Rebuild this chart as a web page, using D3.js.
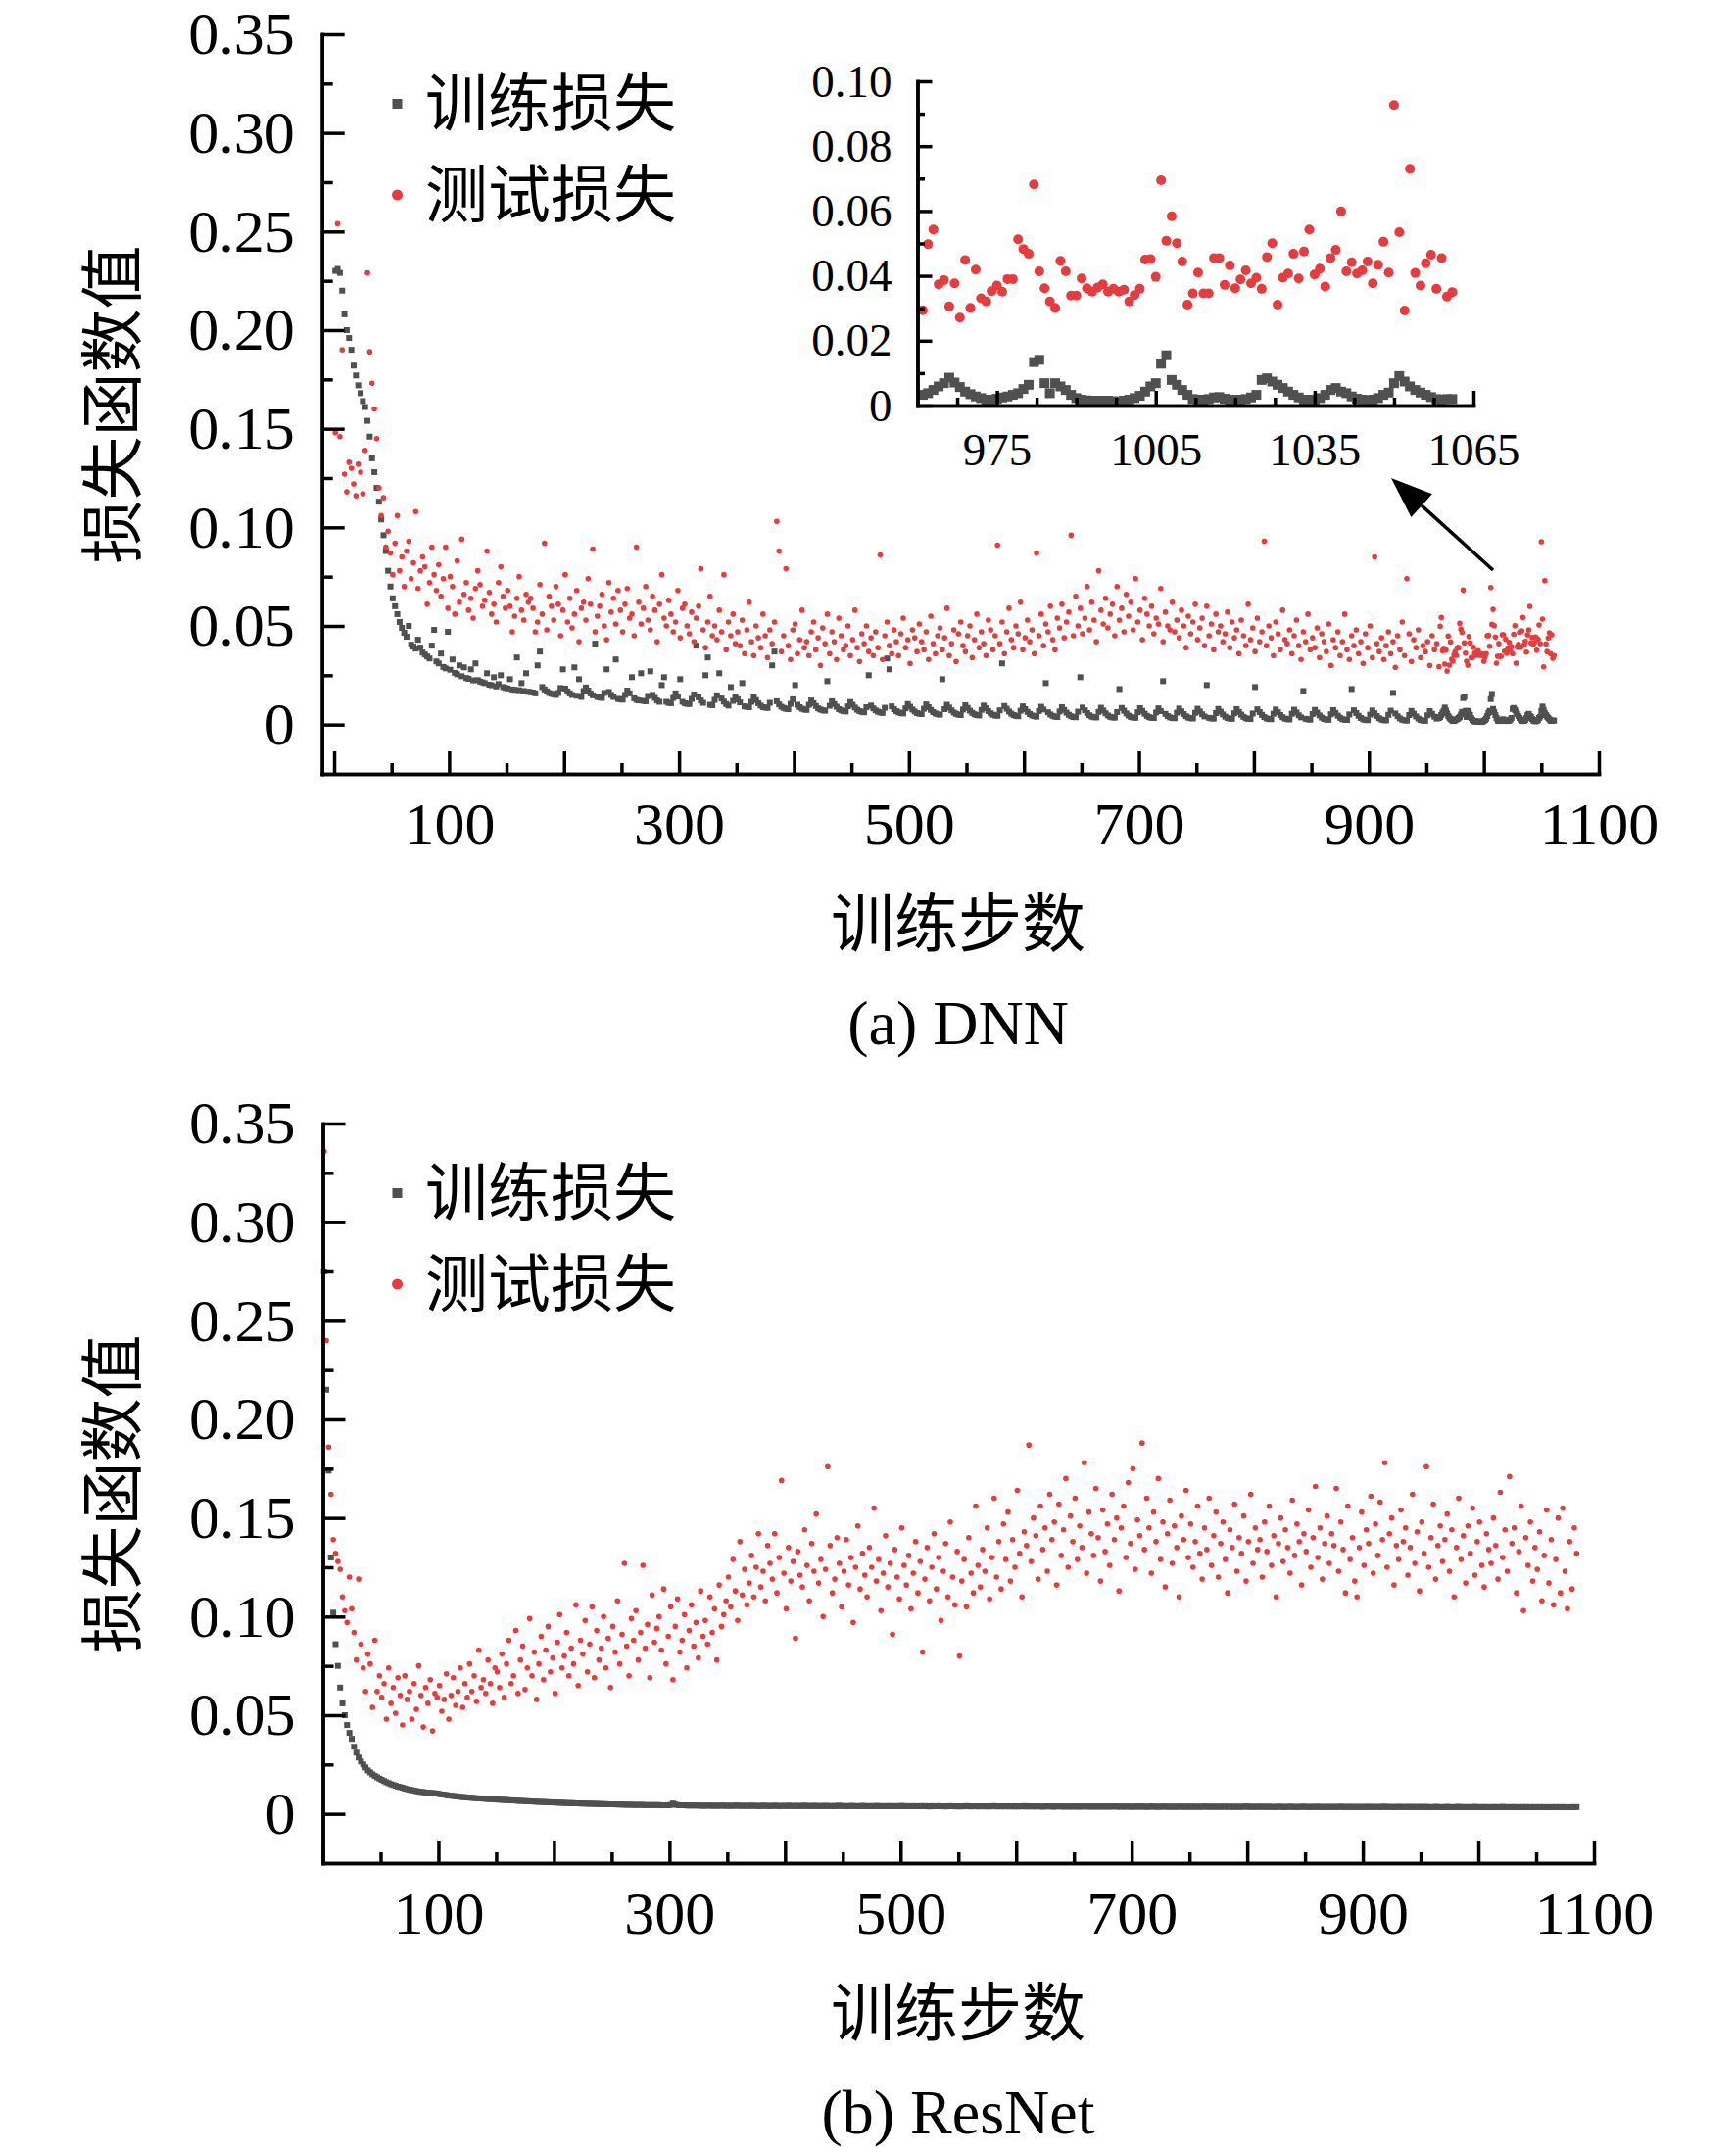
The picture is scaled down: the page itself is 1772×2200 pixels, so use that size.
<!DOCTYPE html>
<html>
<head>
<meta charset="utf-8">
<script src="https://cdn.jsdelivr.net/npm/d3@7"></script>
<style>
  body { margin: 0; background: #fff; }
</style>
</head>
<body>
<script>
// all loss values below are in units of 1e-4
// DNN, steps 1,3,5,...,959
var dnnTrainLoss = [
  2300,2310,2290,2200,2080, 2000,1960,1900,1820,1770, 1720,1680,1640,1610,1540, 1460,1350,1280,1200,1130,
  1040,960,880,780,700, 640,600,560,520,490, 465,445,500,405,395, 385,430,390,365,355,
  345,335,400,480,320, 310,360,292,285,470, 278,330,262,255,300, 245,290,236,232,280,
  224,310,225,218,214, 210,260,202,199,240, 193,205,250,190,186, 183,230,178,176,340,
  174,210,170,260,166,
  164,162,158,300,370,190,178,168,160,156,
  153,150,160,185,280,182,168,158,150,290,
  146,230,140,170,188,172,158,148,410,140,
  137,135,160,280,165,150,140,330,130,128,
  126,150,172,158,240,133,125,122,260,120,
  118,145,270,150,135,122,115,200,240,115,
  110,108,135,158,142,230,115,108,105,104,
  130,152,400,138,122,110,250,340,100,98,
  125,148,260,132,116,104,96,190,120,140,
  128,112,210,92,90,88,115,138,124,108,
  96,88,86,84,110,300,370,118,102,90,
  84,80,78,105,128,200,100,88,80,76,
  74,100,122,108,94,82,76,72,70,220,
  95,118,104,90,78,72,68,66,92,114,
  100,86,75,68,64,62,88,250,96,82,
  72,65,61,59,85,335,280,92,78,68,
  62,58,56,82,104,90,76,66,58,55,
  53,80,102,88,74,63,56,52,50,230,
  78,100,86,72,61,54,50,48,76,98,
  84,70,59,52,48,46,74,96,82,68,
  57,50,46,44,72,310,94,80,66,55,
  48,44,42,70,92,78,64,53,46,42,
  40,68,90,76,210,62,51,44,40,38,
  66,88,74,60,49,42,38,37,65,240,
  86,72,58,47,40,37,36,64,85,71,
  57,46,39,36,35,63,180,84,70,56,
  45,38,35,34,62,83,69,55,44,37,
  34,33,61,82,68,220,54,43,36,33,
  32,60,81,67,53,42,35,32,31,59,
  80,66,52,41,200,34,31,30,58,79,
  65,51,40,33,30,29,57,78,64,50,
  39,32,29,28,56,190,77,63,49,38,
  31,28,27,55,76,62,48,37,30,27,
  26,54,75,61,47,36,170,29,26,25,
  53,74,60,46,35,28,25,24,52,73,
  59,45,34,27,24,23,51,180,72,58,
  44,33,26,23,22,50,71,57,43,32,
  25,22,21,49,70,160,56,42,31,24,
  21,20,48,69,55,41,30,23,20,19,
  47,68,54,40,30
];
var dnnTestLoss = [
  1480,2540,1460,1900,1270, 1180,1330,1300,1220,1160, 1320,1280,1170,1390,2290, 1890,1730,1600,1450,1200,
  1060,1150,900,980,870, 760,920,1060,780,850, 700,880,930,740,820, 1080,690,780,850,800,
  610,720,900,760,680, 810,650,740,900,590, 750,700,560,830,620, 940,660,720,580,640,
  540,690,780,710,600, 630,880,670,560,610, 520,720,800,650,590, 680,600,470,550,640,
  750,580,530,660,620,
  640,590,470,520,710,560,920,480,650,600,
  530,700,610,450,580,760,520,640,490,560,
  680,420,590,620,530,740,610,890,470,550,
  600,660,500,430,720,570,640,510,680,580,
  470,610,690,540,560,450,900,620,510,590,
  700,530,480,650,580,420,610,760,540,500,
  630,560,470,520,680,440,590,610,500,460,
  570,420,540,600,790,480,390,520,650,450,
  500,430,580,470,760,380,520,450,560,410,
  470,400,530,360,480,620,420,350,500,440,
  390,560,450,340,480,410,520,1030,880,370,
  450,790,400,330,480,510,360,430,580,390,
  420,350,470,520,380,440,300,490,410,560,
  360,470,420,330,540,450,380,400,500,350,
  430,580,390,320,460,410,500,370,440,350,
  470,390,860,330,450,520,400,360,480,420,
  350,460,540,390,430,310,480,440,370,510,
  420,380,470,330,550,410,360,450,490,380,
  440,590,350,410,480,320,460,520,400,370,
  450,500,340,430,560,390,470,410,350,530,
  480,380,450,910,410,520,360,470,590,430,
  390,500,460,620,380,440,530,420,480,360,
  870,450,560,400,510,470,600,430,380,540,
  490,610,440,520,570,960,450,650,500,590,
  460,540,700,480,620,530,420,780,580,510,
  640,490,560,610,450,700,530,590,470,660,
  550,620,480,740,520,580,430,640,560,500,
  600,460,540,510,690,420,570,500,480,620,
  470,530,440,580,500,390,550,460,520,610,
  430,490,540,400,600,450,510,380,560,470,
  500,420,460,570,390,520,440,480,360,530,
  450,400,610,430,490,370,540,420,470,930,
  400,500,440,350,520,460,380,580,430,410,
  480,360,450,530,400,330,470,420,560,380,
  440,390,490,340,460,420,370,510,300,430,
  390,470,350,420,560,380,330,450,400,480,
  360,420,310,460,390,500,340,850,410,370,
  440,330,400,470,360,420,290,450,380,520,
  350,740,460,320,430,390,480,340,400,370,
  420,300,450,380,410
];
// DNN, every step 961..1061 (shown again in the inset)
var dnnZoomTrainLoss = [
  33,38,48,59,69,86,71,57,43,35, 28,23,18,18,21,25,28,33,38,51,
  64,134,141,69,38,69,59,48,33,23, 18,16,15,15,15,15,13,13,15,18,
  23,30,43,59,69,129,155,79,64,48, 33,20,18,18,20,25,26,21,18,18,
  18,20,25,33,79,84,74,64,54,43, 33,25,18,18,18,23,33,48,54,43,
  38,28,21,18,16,18,23,33,40,69, 91,74,59,48,40,33,26,20,18,20,
  20
];
var dnnZoomTestLoss = [
  294,498,543,374,387,306,377,271,449,301, 419,331,321,353,370,351,390,390,513,483,
  468,682,414,362,321,301,446,414,339,339, 392,362,351,364,374,351,360,351,357,321,
  341,360,450,452,397,695,508,584,501,444, 311,346,410,346,346,455,455,372,432,362,
  389,417,377,394,360,458,501,311,394,407, 468,392,475,543,404,422,367,455,480,599,
  414,442,407,417,444,377,434,505,410,927, 535,293,730,409,370,439,465,360,455,336,
  350
];
// ResNet, steps 1,3,5,...,1085
var resnetTrainLoss = [
  2750,2150,1740,1300,1020, 860,750,640,560,500, 450,410,380,340,310, 285,265,250,235,220,
  210,200,192,185,178, 172,166,160,155,150, 146,142,138,135,132, 128,125,122,120,118,
  115,113,111,110,108, 107,106,105,104,103, 100,98,97,95,93, 92,90,89,88,86,
  85,84,83,82,81,
  80,79,78,78,77,76,75,75,74,73,
  72,72,71,70,70,69,68,68,67,66,
  66,65,64,64,63,63,62,61,61,60,
  60,59,59,58,58,57,57,56,56,55,
  55,54,54,54,53,53,52,52,52,51,
  51,51,50,50,50,49,49,49,48,48,
  48,48,47,47,47,46,46,46,46,45,
  45,45,45,45,44,44,44,44,44,44,
  44,43,43,43,43,45,52,47,44,43,
  43,43,42,42,42,42,42,42,41,41,
  41,41,42,40,41,41,40,42,41,40,
  41,40,40,42,41,40,41,40,40,41,
  40,41,40,39,40,41,40,40,39,40,
  41,40,39,40,40,39,41,40,39,40,
  40,39,40,41,39,40,39,40,40,39,
  39,40,39,40,39,38,40,39,41,39,
  39,38,39,40,39,39,38,39,40,39,
  38,39,39,38,40,39,38,39,38,39,
  39,38,39,38,39,40,38,39,38,38,
  39,38,38,39,38,39,38,37,39,38,
  38,39,38,38,37,38,39,38,38,37,
  38,37,38,39,38,37,38,38,37,38,
  38,37,38,37,38,39,37,38,37,38,
  37,38,37,38,37,37,38,37,39,37,
  37,38,37,37,38,37,36,37,38,37,
  37,36,37,38,37,36,37,37,36,37,
  37,36,37,36,38,37,36,37,36,37,
  36,37,36,37,36,37,36,38,36,36,
  37,36,36,37,36,35,37,36,36,37,
  36,35,36,37,36,36,35,36,37,36,
  36,35,36,36,35,37,36,35,36,36,
  35,36,36,35,36,35,37,36,35,36,
  36,35,36,35,36,36,35,36,35,35,
  36,35,35,36,37,35,36,35,35,36,
  35,36,35,35,36,35,34,35,36,35,
  35,34,35,36,35,35,34,35,35,36,
  35,34,35,35,34,36,35,34,35,35,
  34,35,35,34,35,36,34,35,34,35,
  35,34,35,34,35,34,35,35,34,35,
  34,35,34,35,36,34,35,34,34,35,
  34,35,34,34,35,34,35,34,34,35,
  34,34,35,34,33,34,35,34,34,33,
  34,35,34,33,34,34,35,34,33,34,
  34,33,34,35,34,33,34,34,33,34,
  33,34,34,33,34,35,33,34,33,34,
  34,33,34,33,34,34,33,34,33,34,
  33,34,33,34,33,33,34,33,34,33,
  34,33,34,33,33,34,33,34
];
var resnetTestLoss = [
  3360,2400,1860,1620,1390, 1320,1280,1240,1100,1030, 970,1200,1040,920,780, 1190,860,740,620,810,
  760,540,880,620,700, 590,660,480,740,560, 640,510,690,600,450, 700,580,620,480,660,
  530,750,600,440,640, 560,680,420,610,590, 650,520,580,710,480, 600,690,550,620,740,
  540,660,590,760,620, 700,570,830,640,680, 610,780,660,560,740,
  720,640,810,590,760,880,660,700,930,610,
  780,850,630,740,990,700,820,580,760,900,
  680,830,950,720,790,610,870,1010,740,800,
  920,700,840,760,1060,650,880,810,980,720,
  860,1050,690,930,780,840,1000,740,890,640,
  950,820,1080,760,910,1270,850,700,990,880,
  1030,780,920,1260,840,960,690,1110,870,940,
  1000,830,1140,760,900,1050,680,950,1090,820,
  880,1010,740,930,1060,850,970,790,1130,900,
  980,860,1100,920,1040,780,1160,950,1010,1080,
  1200,1050,1290,1130,980,1380,1110,1240,1060,1170,
  1310,1100,1250,1420,1150,1230,1080,1360,1270,1190,
  1420,1120,1300,1690,1220,1040,1350,1180,1280,890,
  1330,1210,1150,1440,1260,1080,1370,1230,1520,1170,
  1290,1000,1240,1760,1360,1120,1190,1400,1270,1050,
  1230,1390,1160,1300,970,1250,1460,1140,1320,1210,
  1100,1350,1250,1550,1180,1290,1030,1220,1410,1150,
  1270,910,1340,1200,1090,1450,1260,1160,1310,1040,
  1220,1380,1120,1280,820,1190,1350,1080,1250,1420,
  1140,1300,980,1230,1370,1100,1480,1200,1060,1330,
  800,1180,1290,1050,1400,1220,1120,1560,1260,1150,
  1340,1230,1450,1090,1300,1600,1200,1380,1140,1470,
  1290,1530,1180,1390,1250,1640,1320,1100,1430,1360,
  1870,1280,1500,1410,1190,1560,1340,1450,1230,1620,
  1390,1480,1160,1570,1310,1440,1700,1250,1510,1380,
  1600,1290,1460,1350,1780,1220,1530,1420,1310,1650,
  1400,1180,1540,1330,1470,1260,1620,1390,1500,1130,
  1450,1560,1300,1680,1370,1750,1240,1490,1410,1880,
  1340,1600,1450,1220,1530,1380,1700,1290,1480,1150,
  1420,1590,1270,1460,1350,1100,1510,1390,1640,1300,
  1470,1250,1380,1560,1320,1190,1450,1340,1600,1260,
  1410,1530,1200,1370,1480,1290,1120,1440,1350,1570,
  1230,1400,1320,1510,1180,1380,1620,1270,1450,1340,
  1390,1200,1480,1330,1560,1260,1410,1100,1370,1500,
  1280,1440,1350,1220,1590,1310,1470,1380,1160,1420,
  1330,1540,1250,1400,1660,1300,1450,1190,1370,1510,
  1270,1420,1360,1650,1230,1480,1340,1120,1560,1290,
  1400,1180,1100,1350,1530,1260,1440,1370,1610,1220,
  1470,1310,1580,1390,1780,1250,1420,1500,1160,1360,
  1290,1540,1380,1450,1210,1350,1620,1270,1430,1130,
  1480,1320,1760,1250,1400,1570,1190,1360,1460,1280,
  1390,1520,1230,1440,1100,1350,1600,1290,1410,1170,
  1460,1320,1550,1210,1380,1480,1260,1150,1420,1340,
  1270,1500,1360,1190,1630,1300,1440,1230,1710,1370,
  1450,1120,1330,1560,1030,1400,1260,1480,1180,1350,
  1240,1430,1080,1310,1540,1170,1390,1060,1290,1500,
  1120,1550,1230,1040,1380,1140,1450,1320
];

// axis ticks and labels
var yMajorTicks = [0, 0.05, 0.10, 0.15, 0.20, 0.25, 0.30, 0.35];
var yMinorTicks = [0.025, 0.075, 0.125, 0.175, 0.225, 0.275, 0.325];
var xMajorTicks = [0, 100, 200, 300, 400, 500, 600, 700, 800, 900, 1000, 1100];
var xMinorTicks = [50, 150, 250, 350, 450, 550, 650, 750, 850, 950, 1050];
var xTickLabels = [100, 300, 500, 700, 900, 1100];
var insetYMajorTicks = [0, 0.02, 0.04, 0.06, 0.08, 0.10];
var insetYMinorTicks = [0.01, 0.03, 0.05, 0.07, 0.09];
var insetXMajorTicks = [975, 1005, 1035, 1065];
var insetXMinorTicks = [967.5, 982.5, 990, 997.5, 1012.5, 1020, 1027.5, 1042.5, 1050, 1057.5];

var seriesNames = ["训练损失", "测试损失"];
var yTitle = "损失函数值";
var xTitle = "训练步数";

var UNIT = 1e-4;
var grey = "#505050";
var red = "#e83b3e";
var serif = "'Liberation Serif','Times New Roman',serif";
var cjk = "'Noto Sans CJK SC','Noto Sans CJK JP',sans-serif";

function toPoints(vals, first, stride) {
  return vals.map(function(v, i) { return { step: first + i * stride, loss: v * UNIT }; });
}

var svg = d3.select("body").append("svg")
  .attr("width", 1772)
  .attr("height", 2200)
  .style("background", "#fff");

function fmtLoss(d) { return d === 0 ? "0" : d3.format(".2f")(d); }

function styleAxis(g, size, w) {
  g.attr("font-family", serif).attr("font-size", size);
  g.select(".domain").attr("stroke", "#000").attr("stroke-width", w).attr("stroke-linecap", "square");
  g.selectAll(".tick line").attr("stroke", "#000").attr("stroke-width", w);
  g.selectAll(".tick text").attr("fill", "#000");
}

function drawMarks(g, x, y, train, test, sq, r) {
  g.selectAll("rect.train")
    .data(train)
    .enter()
    .append("rect")
    .attr("class", "train")
    .attr("x", function(d) { return x(d.step) - sq / 2; })
    .attr("y", function(d) { return y(d.loss) - sq / 2; })
    .attr("width", sq)
    .attr("height", sq)
    .style("fill", grey);

  g.selectAll("circle.test")
    .data(test)
    .enter()
    .append("circle")
    .attr("class", "test")
    .attr("cx", function(d) { return x(d.step); })
    .attr("cy", function(d) { return y(d.loss); })
    .attr("r", r)
    .style("fill", red);
}

function panel(p) {
  var g = svg.append("g");
  var x = d3.scaleLinear().domain(p.xDomain).range(p.xRange);
  var y = d3.scaleLinear().domain([-0.025, 0.35]).range([p.top + 755, p.top]);
  var x0 = p.xRange[0];
  var yBase = p.top + 755;

  drawMarks(g, x, y, p.train, p.test, 6, 2.8);

  // minor ticks first, then major with labels
  g.append("g").attr("transform", "translate(" + x0 + ",0)")
    .call(d3.axisLeft(y).tickValues(yMinorTicks).tickSize(-11).tickSizeOuter(0).tickFormat(""))
    .call(styleAxis, 62, 3.5);
  g.append("g").attr("transform", "translate(" + x0 + ",0)")
    .call(d3.axisLeft(y).tickValues(yMajorTicks).tickSize(-23).tickSizeOuter(0).tickPadding(28).tickFormat(fmtLoss))
    .call(styleAxis, 62, 3.5);

  g.append("g").attr("transform", "translate(0," + yBase + ")")
    .call(d3.axisBottom(x).tickValues(xMinorTicks).tickSize(-11).tickSizeOuter(0).tickFormat(""))
    .call(styleAxis, 62, 3.5);
  g.append("g").attr("transform", "translate(0," + yBase + ")")
    .call(d3.axisBottom(x).tickValues(xMajorTicks).tickSize(-23).tickSizeOuter(0).tickPadding(28)
      .tickFormat(function(d) { return xTickLabels.indexOf(d) >= 0 ? d : ""; }))
    .call(styleAxis, 62, 3.5);

  // legend
  var leg = g.append("g");
  leg.append("rect").attr("x", 400.5).attr("y", p.top + 66).attr("width", 10).attr("height", 10).style("fill", grey);
  leg.append("circle").attr("cx", 405.5).attr("cy", p.top + 164).attr("r", 5.5).style("fill", red);
  leg.selectAll("text")
    .data(seriesNames)
    .enter()
    .append("text")
    .attr("x", 434)
    .attr("y", function(d, i) { return p.top + 65 + i * 93; })
    .attr("dominant-baseline", "central")
    .attr("font-family", cjk)
    .attr("font-size", 64)
    .text(function(d) { return d; });

  g.append("text")
    .attr("transform", "translate(110," + (p.top + 378) + ") rotate(-90)")
    .attr("text-anchor", "middle")
    .attr("dominant-baseline", "central")
    .attr("font-family", cjk)
    .attr("font-size", 65)
    .text(yTitle);

  g.append("text")
    .attr("x", 978)
    .attr("y", p.top + 903)
    .attr("text-anchor", "middle")
    .attr("dominant-baseline", "central")
    .attr("font-family", cjk)
    .attr("font-size", 65)
    .text(xTitle);

  g.append("text")
    .attr("x", 978)
    .attr("y", p.top + 1031)
    .attr("text-anchor", "middle")
    .attr("font-family", serif)
    .attr("font-size", 64)
    .text(p.caption);

  return g;
}

var dnnTrain = toPoints(dnnTrainLoss, 1, 2).concat(toPoints(dnnZoomTrainLoss, 961, 1));
var dnnTest = toPoints(dnnTestLoss, 1, 2).concat(toPoints(dnnZoomTestLoss, 961, 1));

panel({
  top: 35,
  xDomain: [-10.5, 1100],
  xRange: [328.7, 1632],
  train: dnnTrain,
  test: dnnTest,
  caption: "(a) DNN"
});

panel({
  top: 1147,
  xDomain: [0, 1100],
  xRange: [329.5, 1627],
  train: toPoints(resnetTrainLoss, 1, 2),
  test: toPoints(resnetTestLoss, 1, 2),
  caption: "(b) ResNet"
});

// inset of the last steps of the DNN run
var ix = d3.scaleLinear().domain([960, 1065]).range([936.5, 1504]);
var iy = d3.scaleLinear().domain([0, 0.10]).range([414, 83]);
var inset = svg.append("g");
drawMarks(inset, ix, iy, toPoints(dnnZoomTrainLoss, 961, 1), toPoints(dnnZoomTestLoss, 961, 1), 10, 5);

inset.append("g").attr("transform", "translate(936.5,0)")
  .call(d3.axisLeft(iy).tickValues(insetYMinorTicks).tickSize(-7.5).tickSizeOuter(0).tickFormat(""))
  .call(styleAxis, 47, 3.5);
inset.append("g").attr("transform", "translate(936.5,0)")
  .call(d3.axisLeft(iy).tickValues(insetYMajorTicks).tickSize(-15).tickSizeOuter(0).tickPadding(26).tickFormat(fmtLoss))
  .call(styleAxis, 47, 3.5);
inset.append("g").attr("transform", "translate(0,414)")
  .call(d3.axisBottom(ix).tickValues(insetXMinorTicks).tickSize(-8).tickSizeOuter(0).tickFormat(""))
  .call(styleAxis, 47, 3.5);
inset.append("g").attr("transform", "translate(0,414)")
  .call(d3.axisBottom(ix).tickValues(insetXMajorTicks).tickSize(-15).tickSizeOuter(0).tickPadding(28).tickFormat(d3.format("d")))
  .call(styleAxis, 47, 3.5);

// arrow pointing from the tail of the main plot up to the inset
var arrowTail = [1524, 582], arrowTip = [1420, 488];
var dx = arrowTip[0] - arrowTail[0], dy = arrowTip[1] - arrowTail[1];
var len = Math.sqrt(dx * dx + dy * dy);
var ux = dx / len, uy = dy / len;
var headLen = 42, headHalf = 16;
var bx = arrowTip[0] - ux * headLen, by = arrowTip[1] - uy * headLen;
svg.append("line")
  .attr("x1", arrowTail[0]).attr("y1", arrowTail[1])
  .attr("x2", bx).attr("y2", by)
  .attr("stroke", "#000").attr("stroke-width", 3.5);
svg.append("path")
  .attr("d", "M" + arrowTip[0] + "," + arrowTip[1] +
    "L" + (bx - uy * headHalf) + "," + (by + ux * headHalf) +
    "L" + (bx + uy * headHalf) + "," + (by - ux * headHalf) + "Z")
  .style("fill", "#000");
</script>
</body>
</html>
